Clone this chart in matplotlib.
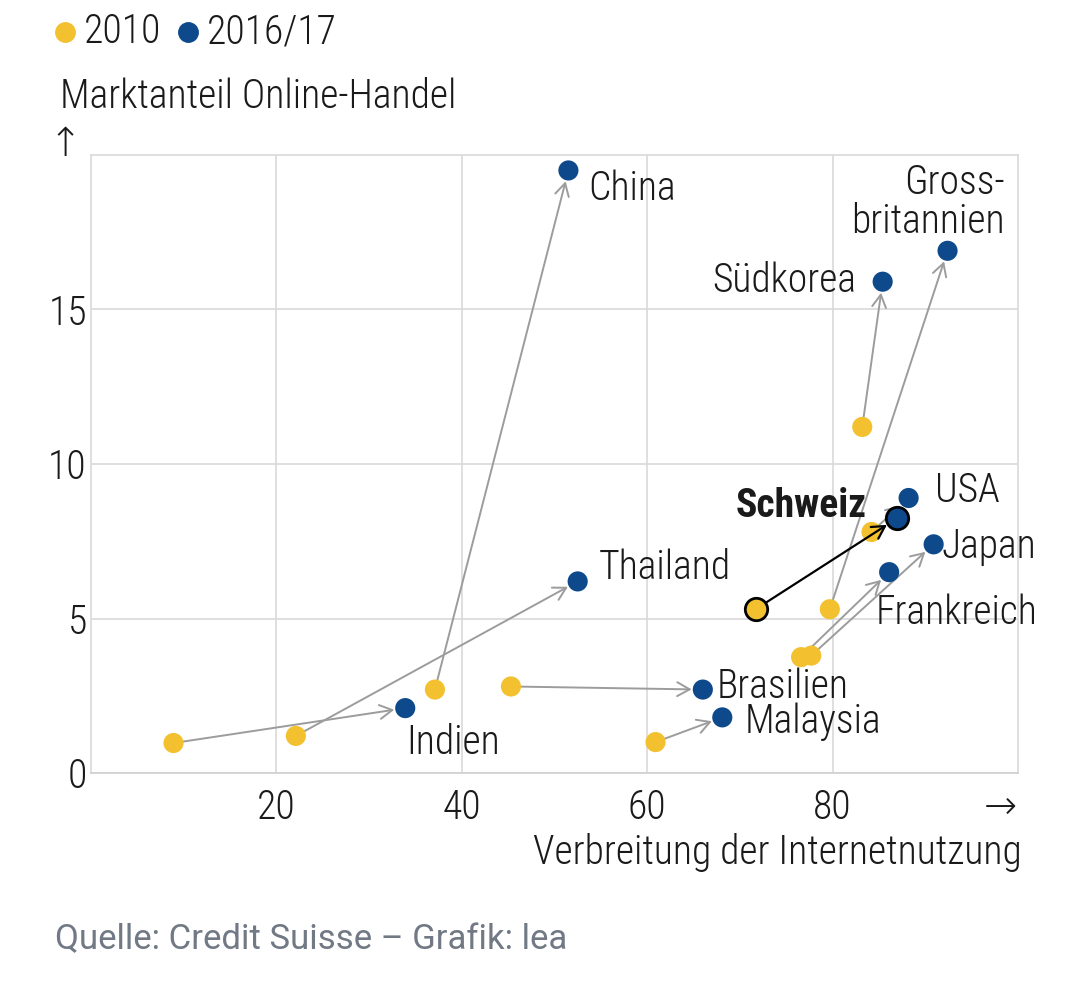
import matplotlib
matplotlib.use("Agg")
import matplotlib.pyplot as plt
from matplotlib import font_manager as fm
from matplotlib.lines import Line2D

# ---------------- data ----------------
countries = ["China", "Gross-\nbritannien", "Südkorea", "Schweiz", "USA", "Japan",
             "Frankreich", "Thailand", "Brasilien", "Malaysia", "Indien"]
x_2010 = [37.1, 79.7, 83.2, 71.7, 84.2, 77.7, 76.6, 22.1, 45.3, 60.9, 8.9]
y_2010 = [2.7, 5.3, 11.2, 5.3, 7.8, 3.8, 3.75, 1.2, 2.8, 1.0, 0.97]
x_2016 = [51.5, 92.4, 85.4, 87.0, 88.2, 90.9, 86.1, 52.5, 66.0, 68.1, 33.9]
y_2016 = [19.5, 16.9, 15.9, 8.25, 8.9, 7.4, 6.5, 6.2, 2.7, 1.8, 2.1]
x_ticks = [20, 40, 60, 80]
y_ticks = [0, 5, 10, 15]
legend_labels = ["2010", "2016/17"]
highlight = "Schweiz"

# ---------------- styles ----------------
YELLOW = "#F3C12F"
BLUE = "#0E4A8B"
GRID = "#d9d9d9"
ARROW = "#9c9c9c"
TEXT = "#1a1a1a"

# label offsets (points) and alignment relative to 2016 point
label_pos = {
    "China": ((14, -13), "left"),
    "Gross-\nbritannien": ((41, 35), "right"),
    "Südkorea": ((-19, 1), "right"),
    "Schweiz": ((-22, 9), "right"),
    "USA": ((19, 5), "left"),
    "Japan": ((6, -2), "left"),
    "Frankreich": ((-10, -29), "left"),
    "Thailand": ((15, 10), "left"),
    "Brasilien": ((10, 2), "left"),
    "Malaysia": ((16, -3), "left"),
    "Indien": ((1, -25), "left"),
}

# ---------------- fonts ----------------
avail = {f.name for f in fm.fontManager.ttflist}
cond, stretch = None, "normal"
for name in ["Roboto Condensed", "Liberation Sans Narrow", "Open Sans Condensed",
             "Noto Sans Condensed", "DejaVu Sans Condensed"]:
    if name in avail:
        cond = name
        break
if cond is None:
    if any(f.name == "DejaVu Sans" and "condensed" in str(f.stretch) for f in fm.fontManager.ttflist):
        cond, stretch = "DejaVu Sans", "condensed"
    else:
        cond = "Roboto"
plt.rcParams["font.family"] = [cond, "DejaVu Sans"]
plt.rcParams["font.stretch"] = stretch
plt.rcParams["font.weight"] = "light"
src_family = ["Roboto", "DejaVu Sans"]

FS = 28.5

fig = plt.figure(figsize=(10.8, 10.01), dpi=100)
ax = fig.add_axes([91 / 1080, 1 - 773 / 1001, (1018 - 91) / 1080, (773 - 155) / 1001])
ax.set_xlim(0, 100)
ax.set_ylim(0, 20)
ax.set_xticks(x_ticks)
ax.set_yticks(y_ticks)
ax.set_xticklabels([str(v) for v in x_ticks])
ax.set_yticklabels([str(v) for v in y_ticks])
ax.tick_params(length=0, labelsize=FS, colors=TEXT, labelcolor=TEXT)
ax.tick_params(axis="x", pad=11)
ax.tick_params(axis="y", pad=3)
ax.grid(True, color=GRID, lw=1.2)
ax.set_axisbelow(True)
for s in ax.spines.values():
    s.set_color(GRID)
    s.set_linewidth(1.2)
ax.spines["bottom"].set_color("#cfcfcf")

# arrows
for c, xa, ya, xb, yb in zip(countries, x_2010, y_2010, x_2016, y_2016):
    hl = c == highlight
    ax.annotate("", xy=(xb, yb), xytext=(xa, ya),
                arrowprops=dict(arrowstyle="->,head_length=0.45,head_width=0.25",
                                color="black" if hl else ARROW,
                                lw=1.6 if hl else 1.4,
                                shrinkA=0, shrinkB=9 if hl else 8,
                                mutation_scale=20),
                zorder=5 if hl else 2)

# markers
for c, xa, ya, xb, yb in zip(countries, x_2010, y_2010, x_2016, y_2016):
    hl = c == highlight
    if hl:
        ax.scatter([xa], [ya], s=260, color=YELLOW, edgecolor="black", linewidth=2, zorder=6)
        ax.scatter([xb], [yb], s=260, color=BLUE, edgecolor="black", linewidth=2, zorder=6)
    else:
        ax.scatter([xa], [ya], s=210, color=YELLOW, edgecolor="none", zorder=3)
        ax.scatter([xb], [yb], s=210, color=BLUE, edgecolor="none", zorder=4)

# labels
for c, xb, yb in zip(countries, x_2016, y_2016):
    (dx, dy), ha = label_pos[c]
    hl = c == highlight
    ax.annotate(c, xy=(xb, yb), xytext=(dx, dy), textcoords="offset points",
                ha=ha, va="center", multialignment=ha, fontsize=FS,
                fontweight="bold" if hl else "light", color=TEXT,
                linespacing=1.0, zorder=7)

# axis titles and arrows
fig.text(60 / 1080, 1 - 97 / 1001, "Marktanteil Online-Handel", fontsize=FS,
         ha="left", va="center", color=TEXT)
fig.text(65 / 1080, 1 - 145 / 1001, "↑", fontsize=FS, ha="center", va="center", color=TEXT)
fig.text(1022 / 1080, 1 - 852 / 1001, "Verbreitung der Internetnutzung", fontsize=FS,
         ha="right", va="center", color=TEXT)
fig.text(1000 / 1080, 1 - 808 / 1001, "→", fontsize=FS, ha="center", va="center", color=TEXT)

# legend
leg_colors = [YELLOW, BLUE]
leg_x = [65, 188]
for lab, col, lx in zip(legend_labels, leg_colors, leg_x):
    fig.add_artist(Line2D([lx / 1080], [1 - 32 / 1001], marker="o", markersize=14,
                          color=col, linestyle="none", transform=fig.transFigure))
    fig.text((lx + 19) / 1080, 1 - 32 / 1001, lab, fontsize=FS, ha="left",
             va="center", color=TEXT)

# source
fig.text(55 / 1080, 1 - 940 / 1001, "Quelle: Credit Suisse – Grafik: lea",
         fontsize=25, ha="left", va="center", color="#717985", family=src_family,
         fontweight="normal")

fig.savefig("out.png", dpi=100)
